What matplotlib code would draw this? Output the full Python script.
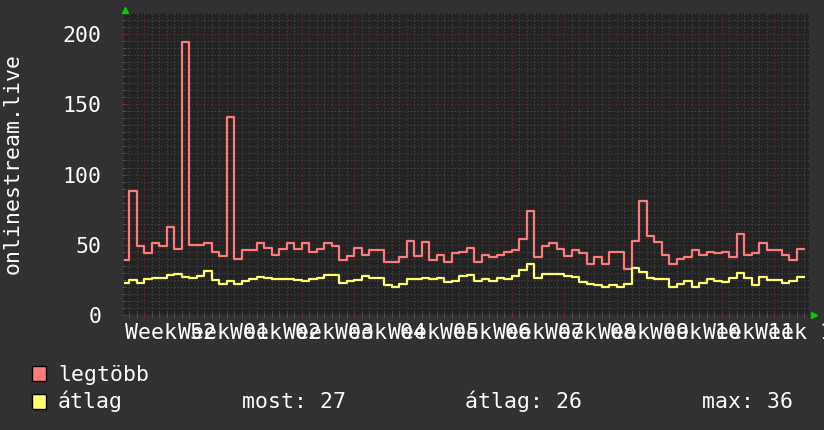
import numpy as np
import matplotlib
matplotlib.use('Agg')
import matplotlib.pyplot as plt
from matplotlib.ticker import MultipleLocator
from matplotlib.patches import Rectangle

plt.rcParams['font.family'] = ['DejaVu Sans Mono', 'DejaVu Sans']

# daily values, first day is 3 days before the Monday of week 52
first_day = -3
legtobb = [39, 88, 49, 44, 51, 49, 63, 47, 194, 50, 50, 51, 45, 42, 141,
           40, 46, 46, 51, 48, 43, 47, 51, 47, 51, 45, 47, 51, 49, 39,
           42, 48, 43, 46, 46, 38, 38, 41, 53, 42, 52, 39, 43, 38, 44,
           45, 48, 38, 43, 41, 43, 45, 46, 54, 74, 41, 49, 51, 47, 42,
           46, 44, 36, 41, 36, 45, 45, 33, 53, 81, 56, 52, 43, 36, 40,
           41, 46, 43, 45, 44, 45, 41, 58, 43, 44, 51, 46, 46, 43, 39, 47]
atlag = [23, 25, 22.5, 25.6, 26.6, 26.6, 28.5, 29, 27, 26, 28, 31.5, 25, 22, 24.4,
         22, 24.4, 25.4, 26.8, 26, 25.4, 25.6, 25.4, 25, 24.4, 25.6, 26.3, 28.2, 28.2, 23,
         24.4, 25, 27.8, 26.6, 26.6, 21.4, 20.2, 22, 25.6, 25.6, 26.6, 25.4, 26, 23.7, 24.4,
         28, 28.5, 24.4, 25.4, 24.4, 26.6, 25.6, 27.8, 32, 36, 26.6, 29.2, 29.2, 29.2, 28,
         27, 23.7, 21.8, 21.4, 20.2, 21.4, 20.2, 22, 33.7, 30.8, 26.6, 25.4, 25.4, 20.2, 22,
         24.4, 20.2, 23, 25.4, 24.2, 23.7, 26.6, 30, 26.6, 21.4, 27.3, 25, 25, 23, 24.4, 27]
weeks = ['52', '01', '02', '03', '04', '05', '06', '07', '08', '09', '10', '11', '12']
most, avg, peak = 27, 26, 36

W, H = 824, 430
BG = '#313131'
CANVAS = '#232323'
RED = '#ff7b7b'
YEL = '#ffff70'
FS = 15.5

def fx(x):
    return x / W

def fy(y):
    return 1 - y / H

days = np.arange(first_day, first_day + len(legtobb) + 1)
red = np.append(legtobb, legtobb[-1])
yel = np.append(atlag, atlag[-1])

fig = plt.figure(figsize=(W / 100, H / 100), dpi=100, facecolor=BG)
ax = fig.add_axes([fx(124), fy(315), fx(685), 302 / H])
ax.set_facecolor(CANVAS)

ax.set_xlim(-2.7, 88.6)
ax.set_ylim(0, 215)

# rrdtool style grid
ax.xaxis.set_major_locator(MultipleLocator(7))
ax.xaxis.set_minor_locator(MultipleLocator(1))
ax.yaxis.set_major_locator(MultipleLocator(50))
ax.yaxis.set_minor_locator(MultipleLocator(5))
ax.grid(which='minor', color='#4a4a4a', linestyle=(0, (1, 2)), linewidth=0.8)
ax.grid(which='major', color='#682828', linestyle=(0, (1, 2)), linewidth=0.9)
ax.set_axisbelow(True)

for s in ax.spines.values():
    s.set_visible(False)

ax.tick_params(axis='x', which='both', labelbottom=False, direction='inout', length=4)
ax.tick_params(axis='x', which='major', color='#7a2c2c')
ax.tick_params(axis='x', which='minor', color='#555555')
ax.tick_params(axis='y', which='major', direction='inout', length=4, color='#7a2c2c',
               labelcolor='white', labelsize=FS, pad=14)
ax.tick_params(axis='y', which='minor', direction='inout', length=3, color='#555555')
ax.set_yticks([0, 50, 100, 150, 200])

ax.plot(days, red, drawstyle='steps-post', color=RED, lw=1.6)
ax.plot(days, yel, drawstyle='steps-post', color=YEL, lw=1.6)

# week labels centred in each week
for i, wk in enumerate(weeks):
    ax.text(3.5 + 7 * i, -0.025, 'Week ' + wk, transform=ax.get_xaxis_transform(),
            ha='center', va='top', color='white', fontsize=FS, clip_on=False)

fig.text(fx(13), fy(164), 'onlinestream.live', rotation=90, ha='center', va='center',
         color='white', fontsize=FS)

# axis arrows
fig.lines.append(plt.Line2D([fx(125)], [fy(10)], marker='^', ms=5, color='#00d000',
                            transform=fig.transFigure))
fig.lines.append(plt.Line2D([fx(814)], [fy(315)], marker='>', ms=5, color='#00d000',
                            transform=fig.transFigure))

# legend
for base, col, name in [(381, RED, 'legtöbb'), (408.5, YEL, 'átlag')]:
    fig.patches.append(Rectangle((fx(32), fy(base)), fx(14), 15 / H, facecolor=col,
                                 edgecolor='black', lw=1, transform=fig.transFigure))
    fig.text(fx(58), fy(base), name, color='white', fontsize=FS, va='baseline')

fig.text(fx(242), fy(408.5), f'most: {most}', color='white', fontsize=FS, va='baseline')
fig.text(fx(465), fy(408.5), f'átlag: {avg}', color='white', fontsize=FS, va='baseline')
fig.text(fx(702), fy(408.5), f'max: {peak}', color='white', fontsize=FS, va='baseline')

fig.savefig('out.png', dpi=100, facecolor=BG)
